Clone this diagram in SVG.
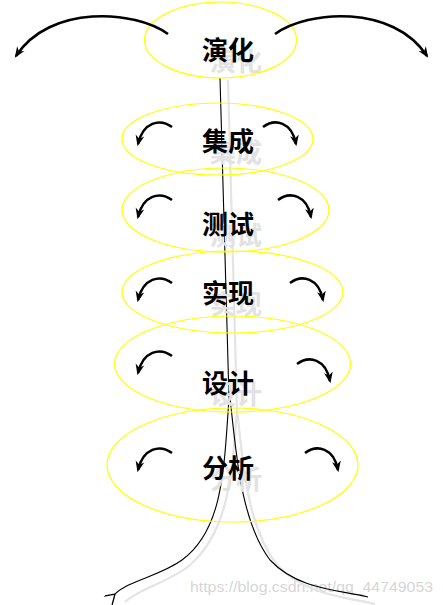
<svg xmlns="http://www.w3.org/2000/svg" width="443" height="605" viewBox="0 0 443 605">
<style>
.ell{fill:none;stroke:#ffff00;stroke-width:1.2}
.lbl{font-family:"Noto Sans CJK SC","Noto Sans",sans-serif;font-weight:bold;font-size:26px;fill:#000;text-anchor:middle}
.shd{font-family:"Noto Sans CJK SC","Noto Sans",sans-serif;font-weight:bold;font-size:26px;fill:#e2e2e2;text-anchor:middle}
.arr{fill:none;stroke:#000;stroke-width:2.5;marker-end:url(#ah)}
.line{fill:none;stroke:#000;stroke-width:1.1}
.gline{fill:none;stroke:#e4e4e4;stroke-width:2.2}
.wm{font-family:"Liberation Sans",Arial,sans-serif;font-size:15.5px;fill:#d6d6d6}
</style>
<defs>
<marker id="ah" viewBox="0 0 10 10" refX="8" refY="5" markerWidth="11" markerHeight="11" markerUnits="userSpaceOnUse" orient="auto">
<path d="M0,1 L10,5 L0,9 L3,5 z" fill="#000"/>
</marker>
<marker id="ov" viewBox="0 0 10 10" refX="1" refY="5" markerWidth="12" markerHeight="12" markerUnits="userSpaceOnUse" orient="auto">
<path d="M9,0 L1,5 L9,10" fill="none" stroke="#000" stroke-width="1.1"/>
</marker>
</defs>
<text class="wm" x="190" y="592" textLength="243" lengthAdjust="spacingAndGlyphs">https://blog.csdn.net/qq_44749053</text>
<g id="connectors">
<path class="gline" d="M228,80 L237,410 C232,470 230,530 190,565 C170,582 140,588 125,602"/>
<path class="gline" d="M237,410 C243,460 246,525 277,565 C305,595 345,597 375,604"/>
<path class="line" d="M220,78 L229,398"/>
<path class="line" d="M229,398 C224,470 223,530 182,560 C160,576 130,580 115,594" marker-end="url(#ov)"/>
<path class="line" d="M230,398 C236,450 240,520 270,560 C298,590 340,590 368,597"/>
</g>
<g id="n-yanhua">
<text class="shd" x="236" y="71">演化</text>
<ellipse class="ell" cx="220.5" cy="40" rx="76" ry="38"/>
<text class="lbl" x="228" y="60">演化</text>
<path class="arr" d="M168,34 C135,10 50,4 16,56"/>
<path class="arr" d="M275,34 C308,10 393,4 427,56"/>
</g>
<g id="n-jicheng">
<text class="shd" x="236" y="162">集成</text>
<ellipse class="ell" cx="217.5" cy="139" rx="95.5" ry="36"/>
<text class="lbl" x="228" y="151">集成</text>
<path class="arr" d="M172,127 c-12,-9 -29,-5 -34,17"/>
<path class="arr" d="M263,127 c12,-9 29,-5 33,17"/>
</g>
<g id="n-ceshi">
<text class="shd" x="236" y="245">测试</text>
<ellipse class="ell" cx="225.5" cy="210" rx="103.5" ry="42"/>
<text class="lbl" x="228" y="234">测试</text>
<path class="arr" d="M172,200 c-12,-9 -29,-5 -34,17"/>
<path class="arr" d="M278,200 c12,-9 29,-5 33,17"/>
</g>
<g id="n-shixian">
<text class="shd" x="236" y="314">实现</text>
<ellipse class="ell" cx="232.5" cy="292" rx="110.5" ry="41"/>
<text class="lbl" x="228" y="303">实现</text>
<path class="arr" d="M172,283 c-12,-9 -29,-5 -34,17"/>
<path class="arr" d="M290,283 c12,-9 29,-5 33,17"/>
</g>
<g id="n-sheji">
<text class="shd" x="236" y="404">设计</text>
<ellipse class="ell" cx="232.5" cy="364" rx="118" ry="48"/>
<text class="lbl" x="228" y="393">设计</text>
<path class="arr" d="M172,356 c-12,-9 -29,-5 -34,17"/>
<path class="arr" d="M297,364 c12,-9 29,-5 33,17"/>
</g>
<g id="n-fenxi">
<text class="shd" x="236" y="489">分析</text>
<ellipse class="ell" cx="232.5" cy="465" rx="125.5" ry="57"/>
<text class="lbl" x="228" y="478">分析</text>
<path class="arr" d="M172,453 c-12,-9 -29,-5 -34,17"/>
<path class="arr" d="M305,453 c12,-9 29,-5 33,17"/>
</g>
</svg>
